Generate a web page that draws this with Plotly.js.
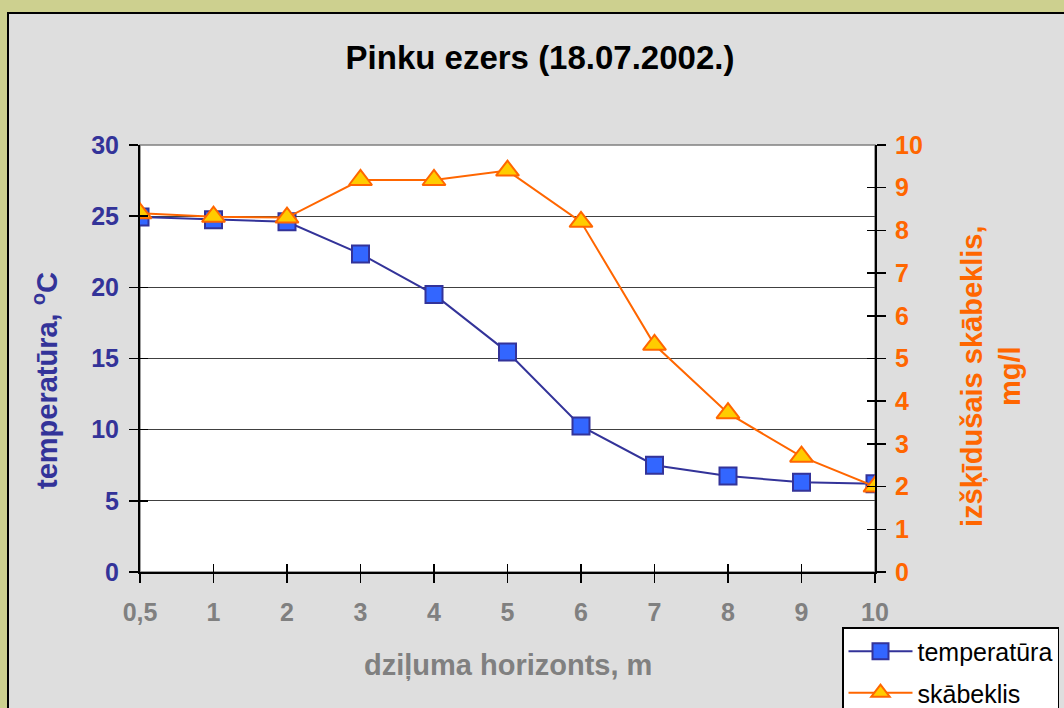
<!DOCTYPE html>
<html>
<head>
<meta charset="utf-8">
<script src="https://cdn.plot.ly/plotly-3.0.1.min.js"></script>
<style>html,body{margin:0;padding:0;background:#cdd08f;}#chart{width:1064px;height:708px;}</style>
</head>
<body>
<div id="chart"></div>
<script>
const categories = ['0,5','1','2','3','4','5','6','7','8','9','10'];
const temperature = [24.95, 24.75, 24.6, 22.35, 19.5, 15.45, 10.25, 7.5, 6.75, 6.3, 6.2];
const oxygen = [8.4, 8.32, 8.3, 9.18, 9.18, 9.4, 8.2, 5.32, 3.72, 2.7, 2.0];
const leftTicks = [0, 5, 10, 15, 20, 25, 30];
const rightTicks = [0, 1, 2, 3, 4, 5, 6, 7, 8, 9, 10];
const gridTicks = [5, 10, 15, 20, 25];

const FONT = 'Arial, "Liberation Sans", sans-serif';
const BLUE = '#333399';
const ORANGE = '#FF6600';

const traces = [
  {
    x: categories, y: temperature, name: 'temperatūra', type: 'scatter', mode: 'lines+markers',
    xaxis: 'x', yaxis: 'y', legendgroup: 'a',
    line: {color: BLUE, width: 2},
    marker: {symbol: 'square', size: 17, color: '#3366FF', line: {color: BLUE, width: 2}}
  },
  {
    x: categories, y: oxygen, name: 'skābeklis', type: 'scatter', mode: 'lines+markers',
    xaxis: 'x', yaxis: 'y2', legendgroup: 'b',
    line: {color: ORANGE, width: 2},
    marker: {symbol: 'triangle-up', size: 20, color: '#FFCC00', line: {color: ORANGE, width: 2}}
  },
  // empty helper traces so the overlay tick axes are drawn
  {x: [], y: [], xaxis: 'x2', yaxis: 'y3', type: 'scatter', mode: 'markers', showlegend: false, hoverinfo: 'skip'},
  {x: [], y: [], xaxis: 'x2', yaxis: 'y4', type: 'scatter', mode: 'markers', showlegend: false, hoverinfo: 'skip'}
];

const layout = {
  width: 1064, height: 708,
  margin: {l: 140, r: 189, t: 145, b: 136, pad: 0, autoexpand: false},
  paper_bgcolor: '#cdd08f',
  plot_bgcolor: 'rgba(0,0,0,0)',
  font: {family: FONT},
  title: {
    text: '<b>Pinku ezers (18.07.2002.)</b>',
    font: {family: FONT, size: 33, color: '#000'},
    x: 540/1064, xanchor: 'center', y: 1 - 57/708, yanchor: 'middle', xref: 'container', yref: 'container'
  },
  showlegend: true,
  legend: {
    x: (842-140)/735, xanchor: 'left', y: (572-627)/427, yanchor: 'top',
    bgcolor: '#ffffff', bordercolor: '#000', borderwidth: 1.5,
    font: {family: FONT, size: 25, color: '#000'},
    traceorder: 'grouped', tracegroupgap: 6, itemwidth: 64
  },
  xaxis: {
    type: 'category', categoryorder: 'array', categoryarray: categories,
    range: [0, 10], showgrid: false, zeroline: false,
    showline: true, linecolor: '#000', linewidth: 2,
    ticks: 'outside', ticklen: 9, tickcolor: '#000', tickwidth: 1.5,
    ticklabelstandoff: 8,
    tickfont: {family: FONT, size: 25, color: '#808080', weight: 'bold'}
  },
  xaxis2: {
    overlaying: 'x', anchor: 'y', side: 'bottom', type: 'linear', range: [0, 10],
    tickmode: 'array', tickvals: [0,1,2,3,4,5,6,7,8,9,10],
    ticks: 'inside', ticklen: 8, tickcolor: '#000', tickwidth: 1.5,
    showticklabels: false, showgrid: false, zeroline: false, showline: false
  },
  yaxis: {
    range: [0, 30], tickmode: 'array', tickvals: leftTicks,
    showgrid: false, zeroline: false,
    showline: true, linecolor: '#000', linewidth: 2,
    ticks: 'outside', ticklen: 9, tickcolor: '#000', tickwidth: 1.5,
    ticklabelstandoff: 5,
    tickfont: {family: FONT, size: 25, color: BLUE, weight: 'bold'}
  },
  yaxis2: {
    overlaying: 'y', side: 'right', anchor: 'x',
    range: [0, 10], tickmode: 'array', tickvals: rightTicks,
    showgrid: false, zeroline: false,
    showline: true, linecolor: '#000', linewidth: 2,
    ticks: 'outside', ticklen: 9, tickcolor: '#000', tickwidth: 1.5,
    ticklabelstandoff: 4,
    tickfont: {family: FONT, size: 25, color: ORANGE, weight: 'bold'}
  },
  yaxis3: {
    overlaying: 'y', side: 'left', anchor: 'x2', range: [0, 30],
    tickmode: 'array', tickvals: gridTicks,
    ticks: 'inside', ticklen: 8, tickcolor: '#000', tickwidth: 1.5,
    showgrid: true, gridcolor: '#404040', gridwidth: 1,
    showticklabels: false, zeroline: false, showline: false
  },
  yaxis4: {
    overlaying: 'y', side: 'right', anchor: 'x2', range: [0, 10],
    tickmode: 'array', tickvals: [1,2,3,4,5,6,7,8,9],
    ticks: 'inside', ticklen: 8, tickcolor: '#000', tickwidth: 1.5,
    showticklabels: false, showgrid: false, zeroline: false, showline: false
  },
  shapes: [
    {type: 'rect', xref: 'paper', yref: 'paper', layer: 'below',
     x0: (8-140)/735, x1: 2, y0: -1, y1: (572-13)/427,
     fillcolor: '#dedede', line: {color: '#000', width: 2}},
    {type: 'rect', xref: 'paper', yref: 'paper', layer: 'below',
     x0: 0, x1: 1, y0: 0, y1: 1,
     fillcolor: '#ffffff', line: {color: '#808080', width: 1.5}}
  ],
  annotations: [
    {text: '<b>temperatūra, <sup>o</sup>C</b>', xref: 'paper', yref: 'paper',
     x: (45-140)/735, y: (572-381)/427, xanchor: 'center', yanchor: 'middle',
     textangle: -90, showarrow: false, font: {family: FONT, size: 29, color: BLUE}},
    {text: '<b>izšķīdušais skābeklis,<br>mg/l</b>', xref: 'paper', yref: 'paper',
     x: (991-140)/735, y: (572-377)/427, xanchor: 'center', yanchor: 'middle',
     textangle: -90, showarrow: false, font: {family: FONT, size: 29, color: ORANGE}},
    {text: '<b>dziļuma horizonts, m</b>', xref: 'paper', yref: 'paper',
     x: 0.5, y: (572-665)/427, xanchor: 'center', yanchor: 'middle',
     showarrow: false, font: {family: FONT, size: 29, color: '#808080'}}
  ]
};

Plotly.newPlot('chart', traces, layout, {displayModeBar: false, staticPlot: true});
</script>
</body>
</html>
